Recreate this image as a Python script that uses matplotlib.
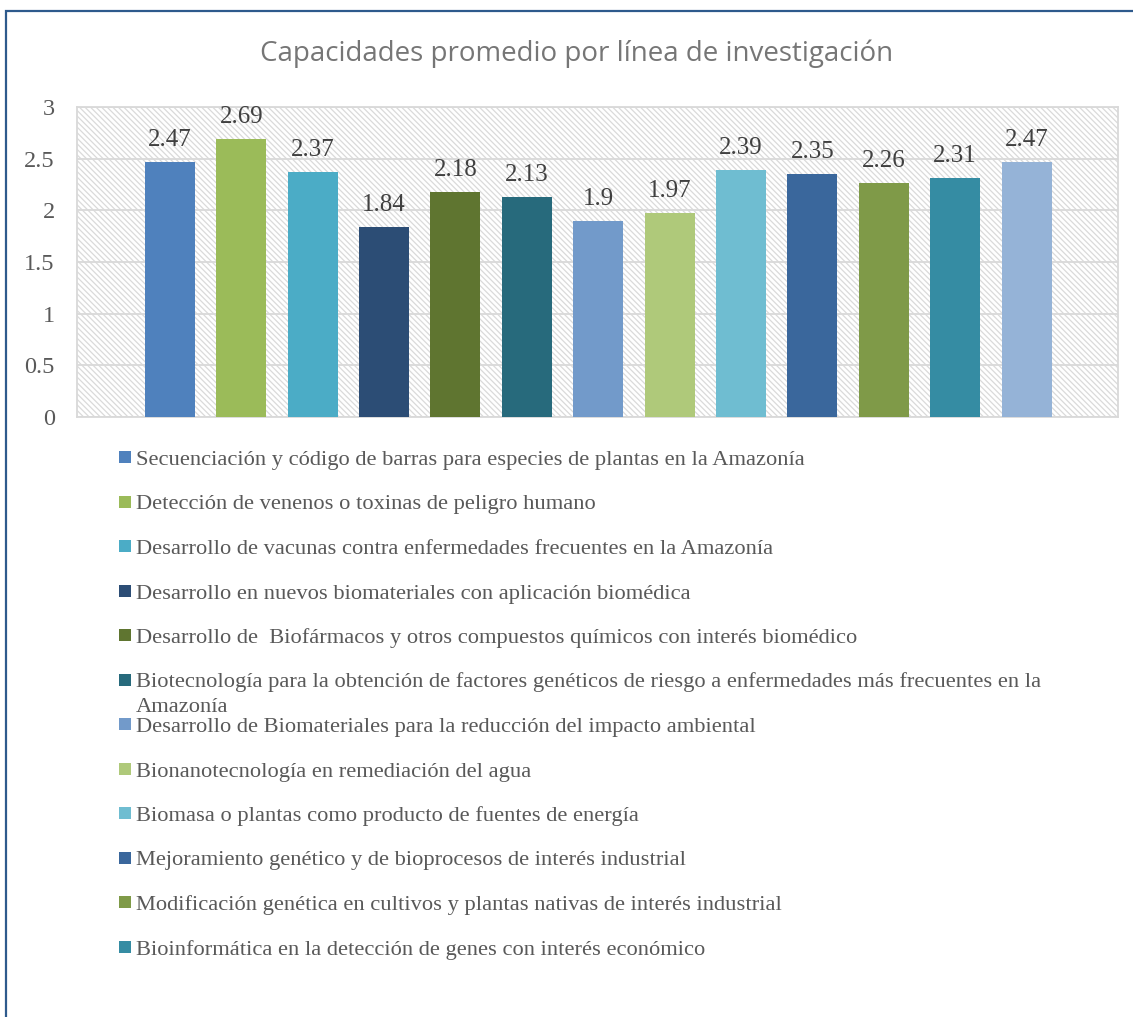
import matplotlib as mpl
mpl.use('Agg')
import matplotlib.pyplot as plt
from matplotlib.patches import Rectangle

plt.rcParams['hatch.color'] = '#DADADA'
plt.rcParams['hatch.linewidth'] = 0.9

titulo = 'Capacidades promedio por línea de investigación'

lineas = [
    'Secuenciación y código de barras para especies de plantas en la Amazonía',
    'Detección de venenos o toxinas de peligro humano',
    'Desarrollo de vacunas contra enfermedades frecuentes en la Amazonía',
    'Desarrollo en nuevos biomateriales con aplicación biomédica',
    'Desarrollo de  Biofármacos y otros compuestos químicos con interés biomédico',
    'Biotecnología para la obtención de factores genéticos de riesgo a enfermedades más frecuentes en la\nAmazonía',
    'Desarrollo de Biomateriales para la reducción del impacto ambiental',
    'Bionanotecnología en remediación del agua',
    'Biomasa o plantas como producto de fuentes de energía',
    'Mejoramiento genético y de bioprocesos de interés industrial',
    'Modificación genética en cultivos y plantas nativas de interés industrial',
    'Bioinformática en la detección de genes con interés económico',
]

valores = [2.47, 2.69, 2.37, 1.84, 2.18, 2.13, 1.9, 1.97, 2.39, 2.35, 2.26, 2.31, 2.47]
etiquetas = ['2.47', '2.69', '2.37', '1.84', '2.18', '2.13', '1.9', '1.97', '2.39', '2.35', '2.26', '2.31', '2.47']

colores = ['#4F81BD', '#9BBB59', '#4BACC6', '#2C4D75', '#5F7530', '#276A7C', '#729ACA',
           '#AFC97A', '#6FBDD1', '#3A679C', '#7F9A48', '#358CA3', '#95B3D7']

W, H = 1133, 1017
fig = plt.figure(figsize=(W/100, H/100), dpi=100)

# marco azul del grafico
fig.patches.append(Rectangle((6/W, -0.05), 1.2, 1 - 11/H + 0.05, transform=fig.transFigure,
                             fill=False, edgecolor='#2E5A8C', linewidth=1.6))

fig.text(577/W, 1 - 54/H, titulo, ha='center', va='center', fontsize=20,
         color='#767676', family='Open Sans')

ax = fig.add_axes([77/W, 1 - 417/H, (1118-77)/W, (417-107)/H])
ax.patch.set_facecolor('white')
ax.patch.set_hatch('\\\\\\\\\\\\')
ax.patch.set_edgecolor('#DADADA')

x = list(range(len(valores)))
ax.bar(x, valores, width=0.70, color=colores, zorder=3)
for xi, v, t in zip(x, valores, etiquetas):
    ax.annotate(t, (xi, v), xytext=(0, 8), textcoords='offset points', ha='center', va='bottom',
                fontsize=18, color='#404040', family='Liberation Serif')

ax.set_xlim(-1.30, 13.28)
ax.set_ylim(0, 3)
ax.set_yticks([0, 0.5, 1, 1.5, 2, 2.5, 3])
ax.set_yticklabels(['0', '0.5', '1', '1.5', '2', '2.5', '3'])
ax.set_xticks([])
ax.grid(axis='y', color='#D9D9D9', linewidth=1.3, zorder=1)
ax.set_axisbelow(True)
ax.tick_params(axis='y', length=0, pad=16, labelsize=17.5, labelcolor='#595959')
for lbl in ax.get_yticklabels():
    lbl.set_family('Liberation Serif')
for s in ax.spines.values():
    s.set_color('#D9D9D9')
    s.set_linewidth(1.3)

# leyenda
for i, (lab, c) in enumerate(zip(lineas, colores)):
    yc = 457 + 44.5*i
    fig.patches.append(Rectangle((119/W, 1 - (yc + 6)/H), 12/W, 12/H, transform=fig.transFigure,
                                 facecolor=c, edgecolor='none'))
    for k, parte in enumerate(lab.split('\n')):
        fig.text(136/W, 1 - (yc + 8 + 24*k)/H, parte, ha='left', va='baseline', fontsize=16.2,
                 color='#595959', family='Liberation Serif')

fig.savefig('out.png', dpi=100)
